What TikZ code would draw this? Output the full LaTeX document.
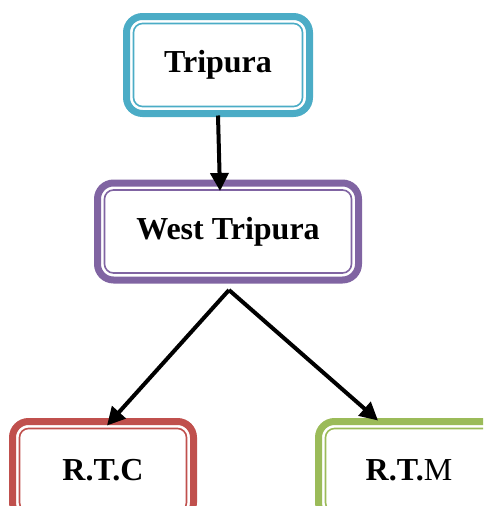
\documentclass[tikz,border=0pt]{standalone}
\usepackage{fontspec}
\setmainfont{Liberation Serif}
\definecolor{tripteal}{HTML}{4BACC6}
\definecolor{westpurple}{HTML}{8064A2}
\definecolor{rtcred}{HTML}{C0504D}
\definecolor{rtmgreen}{HTML}{9BBB59}
\tikzset{
  regionbox/.style={draw=#1, line width=7pt, rounded corners=16pt, outer sep=0pt,
    minimum height=97pt, font=\fontsize{32}{38}\selectfont\bfseries},
  linkarrow/.style={-{Triangle[length=18pt,width=18pt]}, line width=4pt, black}
}
\usetikzlibrary{arrows.meta}
\begin{document}
\begin{tikzpicture}[x=1pt,y=-1pt]
\useasboundingbox (0,0) rectangle (483,506);
\clip (0,0) rectangle (483,506);
\node[regionbox=tripteal, minimum width=183pt] (trip) at (218,65) {Tripura};
\node[regionbox=westpurple, minimum width=261pt] (west) at (228,231.5) {West Tripura};
\node[regionbox=rtcred, minimum width=181pt] (rtc) at (103,470) {R.T.C};
\node[regionbox=rtmgreen, minimum width=181pt] (rtm) at (409,470) {R.T.\textmd{M}};
% inner thin outlines
\foreach \n/\c in {trip/tripteal, west/westpurple, rtc/rtcred, rtm/rtmgreen}
  \draw[\c, line width=1.6pt, rounded corners=9pt] ([shift={(7,7)}]\n.north west) rectangle ([shift={(-7,-7)}]\n.south east);
\coordinate (split) at (229,290);
\draw[linkarrow] ([yshift=-2pt]trip.south) -- ([shift={(-8,8)}]west.north);
\draw[linkarrow] (split) -- ([shift={(4,4)}]rtc.north);
\draw[linkarrow] (split) -- ([shift={(-31,-1)}]rtm.north);
\end{tikzpicture}
\end{document}
